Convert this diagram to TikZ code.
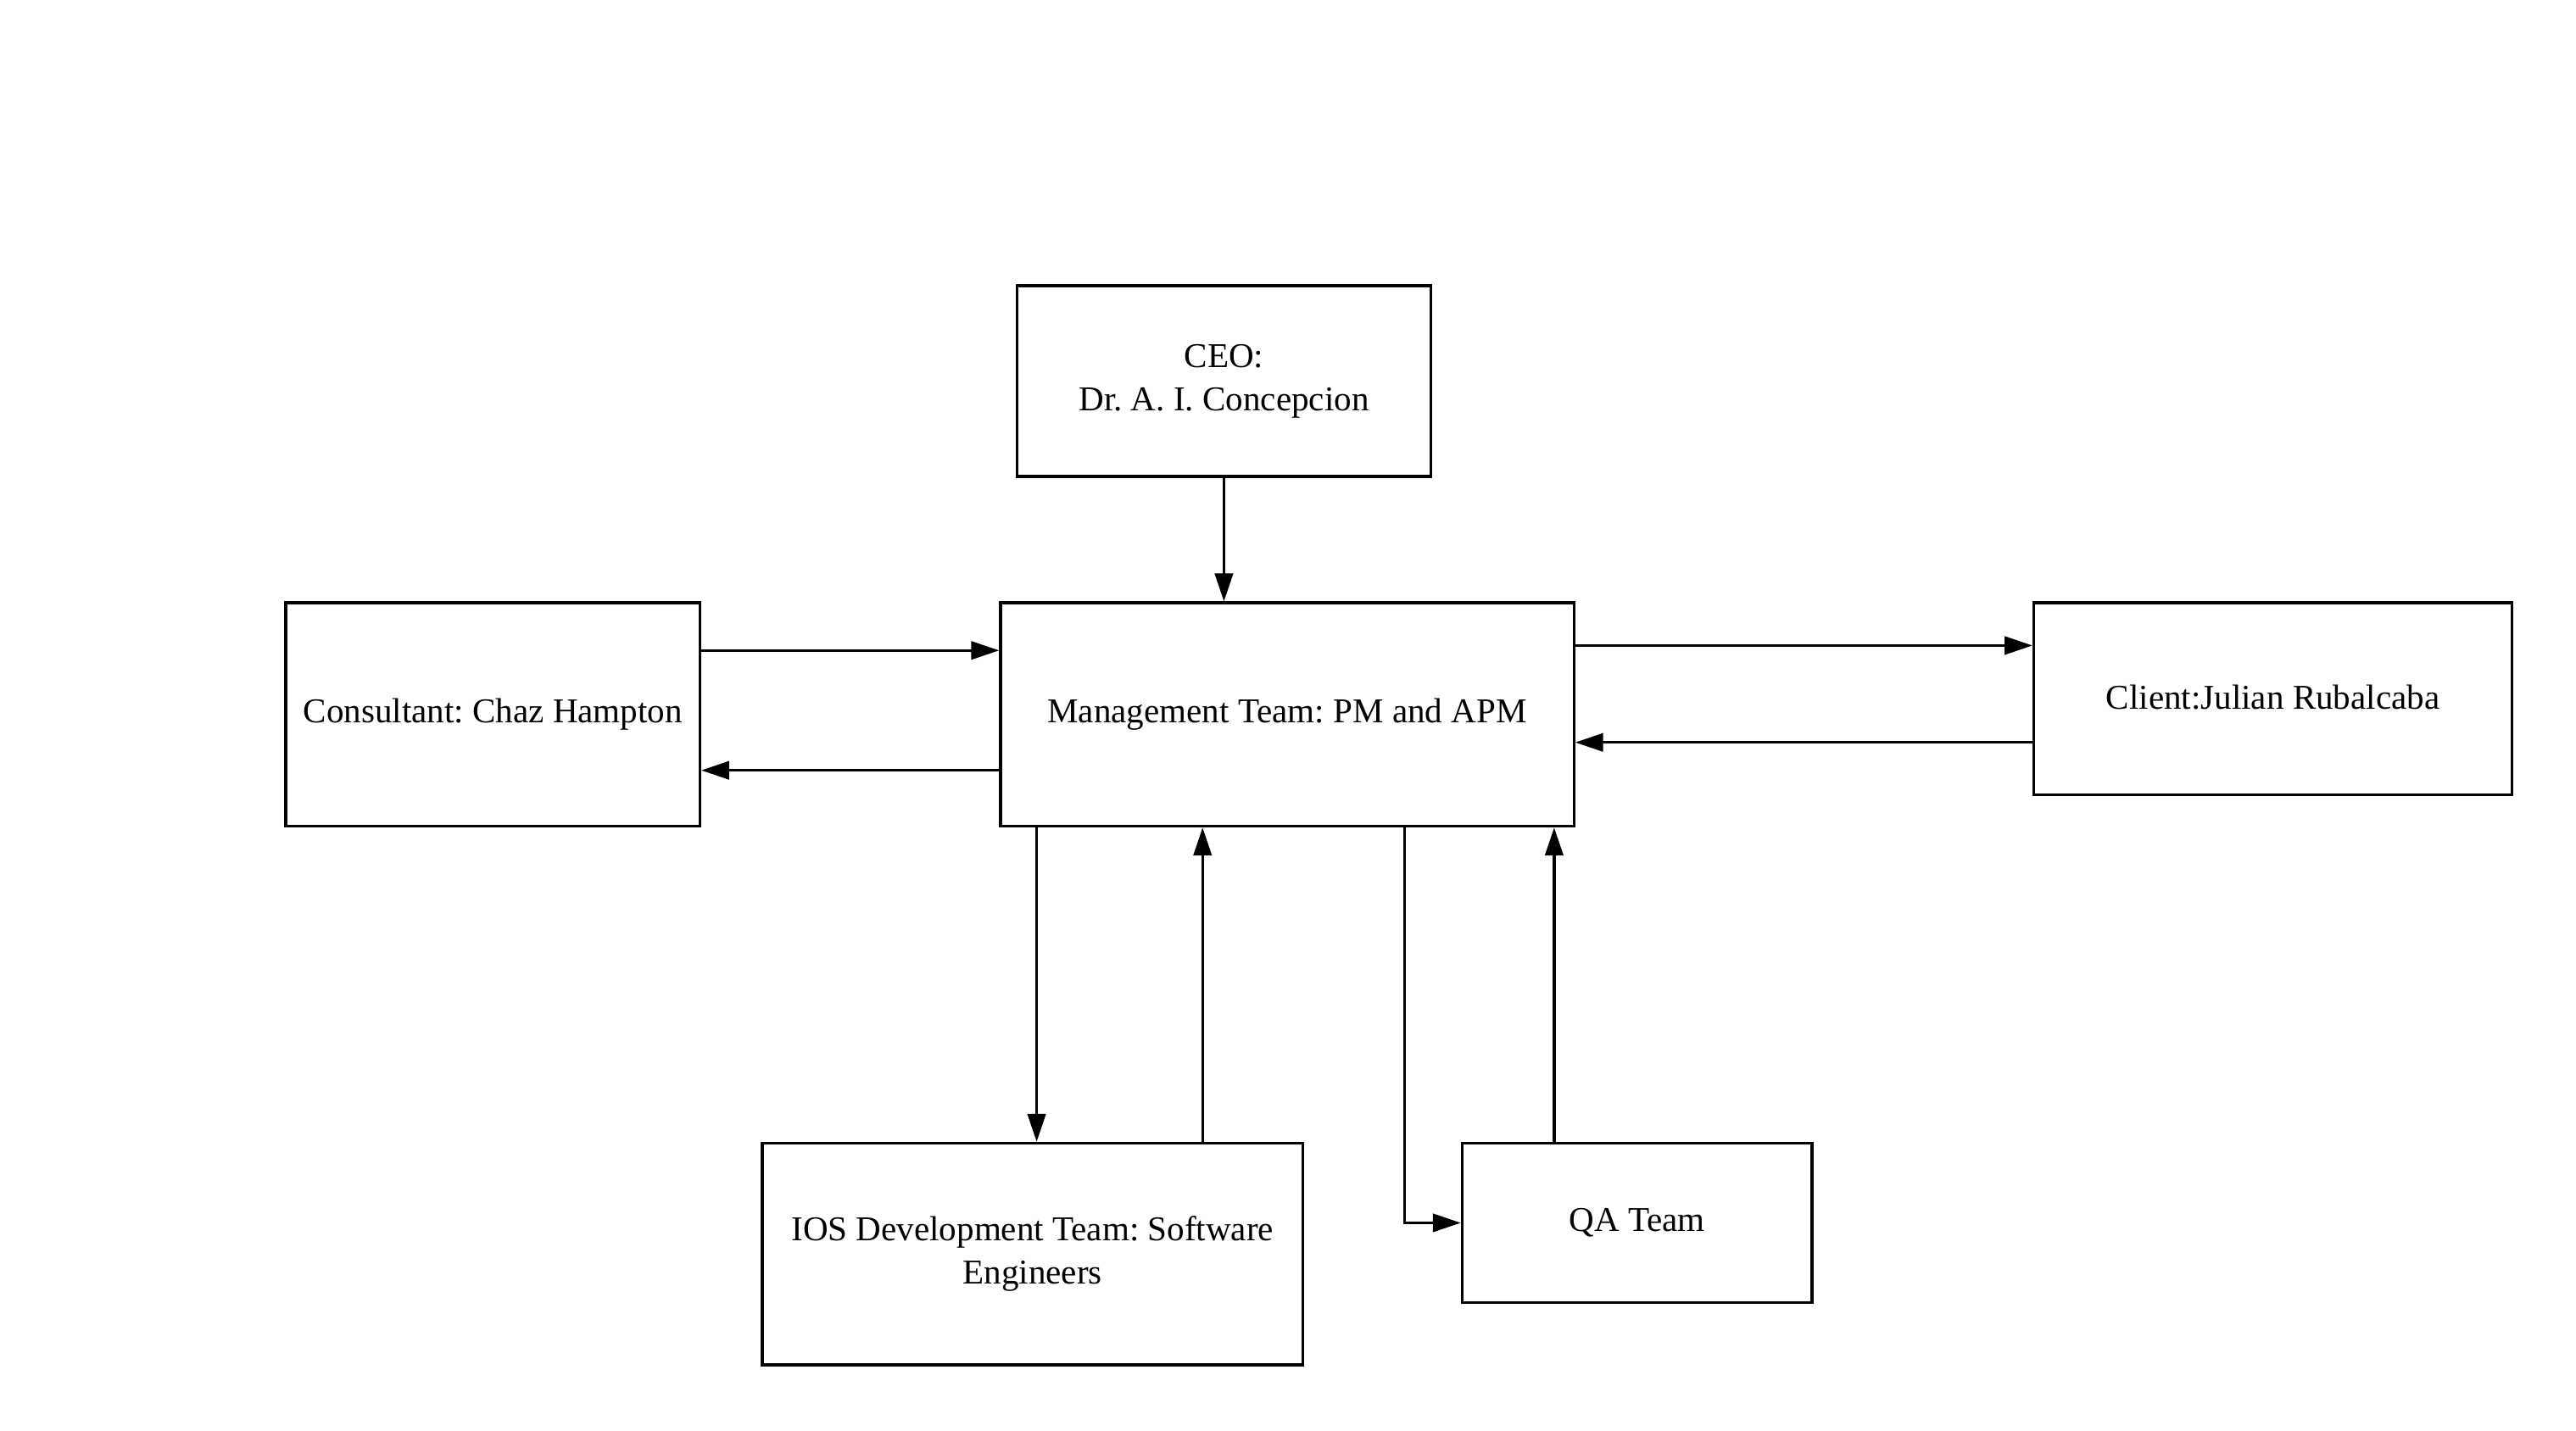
\documentclass[tikz,border=0pt]{standalone}
\usepackage{fontspec}
\setmainfont{Liberation Serif}
\usetikzlibrary{arrows.meta}
\begin{document}
\frenchspacing
\begin{tikzpicture}[x=0.5pt,y=-0.5pt,
  box/.style={draw=black,line width=0.85pt,fill=white,inner sep=2pt,align=center,
    font=\fontsize{10.6}{13.2}\selectfont\frenchspacing},
  arr/.style={draw=black,line width=0.85pt,-{Triangle[length=8.5pt,width=5.5pt]}}]
\fill[white] (0,0) rectangle (1568,871);
\useasboundingbox (0,0) rectangle (1568,871);
\node[box,minimum width=126pt,minimum height=58pt] (ceo) at (745,232) {CEO:\\Dr. A. I. Concepcion};
\node[box,minimum width=174.5pt,minimum height=68pt] (mgmt) at (783.5,435) {Management Team: PM and APM};
\node[box,minimum width=126pt,minimum height=68pt] (cons) at (300,435) {Consultant: Chaz Hampton};
\node[box,minimum width=145.5pt,minimum height=58.5pt] (client) at (1383.5,425.5) {\raisebox{1pt}{Client:Julian Rubalcaba}};
\node[box,minimum width=164.5pt,minimum height=67.5pt] (ios) at (628.5,763.5) {IOS Development Team: Software\\Engineers};
\node[box,minimum width=106.5pt,minimum height=48.5pt] (qa) at (996.5,744.5) {QA Team};
\draw[arr] (ceo.south) -- (ceo.south |- mgmt.north);
\draw[arr] (cons.east |- 0,396) -- (mgmt.west |- 0,396);
\draw[arr] (mgmt.west |- 0,469) -- (cons.east |- 0,469);
\draw[arr] (mgmt.east |- 0,393) -- (client.west |- 0,393);
\draw[arr] (client.west |- 0,452) -- (mgmt.east |- 0,452);
\draw[arr] (mgmt.south -| 631,0) -- (ios.north -| 631,0);
\draw[arr] (ios.north -| 732,0) -- (mgmt.south -| 732,0);
\draw[arr] (mgmt.south -| 855,0) |- (qa.west);
\draw[arr] (qa.north -| 946,0) -- (mgmt.south -| 946,0);
\end{tikzpicture}
\end{document}
